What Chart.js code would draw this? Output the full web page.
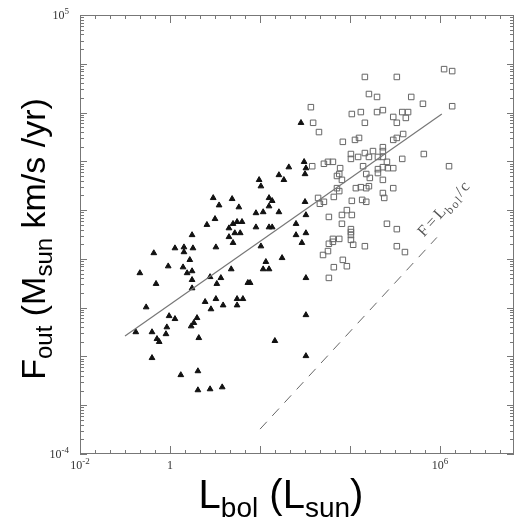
<!DOCTYPE html>
<html>
<head>
<meta charset="utf-8">
<script src="https://cdn.jsdelivr.net/npm/chart.js@4.4.0/dist/chart.umd.min.js"></script>
<style>
  html, body { margin: 0; padding: 0; background: #fff; }
  #wrap { width: 520px; height: 522px; position: relative; }
</style>
</head>
<body>
<div id="wrap"><canvas id="outflowChart"></canvas></div>
<script>
// values are log10
// filled triangles
var tri_logL = [-0.76, -0.67, -0.53, -0.40, -0.40, -0.36, -0.31, -0.29, -0.24, -0.07,
  -0.09, -0.04, -0.02, 0.11, 0.11, 0.24, 0.29, 0.31, 0.31, 0.38,
  0.44, 0.49, 0.49, 0.49, 0.49, 0.51, 0.47, 0.53, 0.60, 0.64,
  0.62, 0.62, 0.78, 0.82, 0.89, 0.89, 0.91, 0.96, 1.00, 1.02,
  1.02, 1.04, 1.09, 1.13, 1.16, 1.18, 1.31, 1.31, 1.36, 1.38,
  1.40, 1.40, 1.44, 1.49, 1.49, 1.49, 1.53, 1.56, 1.60, 1.62,
  1.73, 1.78, 1.91, 1.91, 1.98, 2.02, 2.02, 2.07, 2.07, 2.13,
  2.20, 2.20, 2.20, 2.20, 2.27, 2.27, 2.33, 2.42, 2.42, 2.49,
  2.53, 2.64, 2.80, 2.80, 2.91, 2.93, 2.98, 3.02, 3.00, 3.00,
  3.02, 3.02, 3.02, 3.02, 3.02];
var tri_logF = [-1.50, -0.29, -0.99, -1.50, -2.03, 0.12, -0.51, -1.64, -1.70, -1.40,
  -1.54, -0.15, -1.17, -1.23, 0.22, -2.38, -0.17, 0.24, 0.14, -0.29,
  -0.02, 0.49, -0.25, -0.43, -0.60, 0.22, -1.38, -1.31, -1.21, -1.62,
  -2.30, -2.69, -0.88, 0.70, -0.37, -2.67, -1.03, 1.25, 0.82, 0.24,
  -0.82, -0.51, 1.10, -0.39, -2.63, -0.95, 0.63, 0.45, -0.21, 1.23,
  0.72, 0.33, 0.53, 0.76, -0.82, -0.95, 1.06, 0.53, 0.76, -0.82,
  -0.49, -0.49, 0.94, 0.65, 1.62, 1.49, 0.26, 0.96, -0.21, -0.06,
  1.25, 1.08, 0.65, -0.21, 1.19, 0.65, -1.68, 1.72, 0.96, 0.02,
  1.62, 1.88, 0.72, 0.49, 2.79, 0.33, 1.99, 1.86, 1.74, 1.17,
  0.90, 0.53, -0.39, -1.15, -1.99];

// open squares
var sq_logL = [4.33, 5.04, 6.09, 6.27, 4.42, 4.60, 5.36, 5.62, 6.27, 3.13,
  3.18, 3.31, 4.04, 4.24, 4.33, 4.60, 4.73, 4.96, 5.04, 5.16,
  5.29, 5.24, 3.84, 4.11, 4.20, 4.96, 5.04, 5.18, 5.64, 6.20,
  4.02, 4.02, 4.18, 4.33, 4.42, 4.51, 4.62, 4.73, 4.73, 4.73,
  4.82, 4.73, 4.84, 4.96, 5.16, 4.29, 4.36, 4.44, 4.62, 4.62,
  4.73, 4.73, 4.76, 4.96, 3.78, 3.76, 3.71, 3.82, 3.71, 3.76,
  3.64, 3.62, 3.51, 3.42, 3.16, 3.29, 3.33, 3.42, 4.13, 4.24,
  4.36, 4.42, 4.04, 4.27, 4.36, 3.53, 3.82, 3.93, 4.04, 3.82,
  4.02, 4.02, 4.02, 4.02, 4.07, 3.62, 3.76, 3.62, 3.53, 4.33,
  4.82, 5.04, 5.04, 5.22, 3.51, 3.40, 3.84, 3.93, 3.64, 3.53];
var sq_logF = [3.73, 3.73, 3.89, 3.85, 3.38, 3.32, 3.32, 3.18, 3.13, 3.11,
  2.79, 2.60, 2.97, 3.01, 2.79, 3.01, 3.05, 2.91, 2.79, 3.01,
  3.01, 2.89, 2.40, 2.44, 2.48, 2.44, 2.48, 2.56, 2.15, 1.90,
  2.15, 2.05, 2.09, 2.17, 2.09, 2.21, 2.09, 2.29, 2.21, 2.09,
  1.99, 1.88, 1.86, 1.86, 2.05, 1.90, 1.74, 1.66, 1.84, 1.76,
  1.62, 1.35, 1.25, 1.45, 1.86, 1.74, 1.70, 1.62, 1.45, 1.39,
  1.27, 1.99, 1.99, 1.95, 1.90, 1.25, 1.13, 1.17, 1.45, 1.47,
  1.45, 1.49, 1.19, 1.21, 1.17, 0.86, 0.90, 1.00, 0.90, 0.72,
  0.61, 0.55, 0.49, 0.39, 0.29, 0.41, 0.41, 0.35, 0.31, 0.26,
  0.72, 0.61, 0.26, 0.14, 0.16, 0.08, -0.02, -0.15, -0.17, -0.39];

// fitted relation and F = L_bol/c
var fit_logL = [-1.0, 6.04];
var fit_logF = [-1.58, 2.97];
var lim_logL = [2.0, 5.93];
var lim_logF = [-3.49, 0.44];

var x_range = [1e-2, 4.4e7];
var y_range = [1e-4, 1e5];
var x_labels = [{v: 1e-2, base: '10', sup: '-2'}, {v: 1, base: '1', sup: ''}, {v: 1e6, base: '10', sup: '6'}];
var y_labels = [{v: 1e5, base: '10', sup: '5'}, {v: 1e-4, base: '10', sup: '-4'}];

function toPoints(logx, logy) {
  return logx.map(function(lx, i) {
    return {x: Math.pow(10, lx), y: Math.pow(10, logy[i])};
  });
}

var SANS = '"Liberation Sans", Arial, sans-serif';
var SERIF = '"Liberation Serif", "DejaVu Serif", serif';

// draws text pieces one after the other (for sub/superscripts)
function drawRich(ctx, parts, x, y, align) {
  var w = 0;
  parts.forEach(function(p) {
    ctx.font = p.font;
    p.w = ctx.measureText(p.t).width + (p.gap || 0);
    w += p.w;
  });
  var cx = x;
  if (align === 'center') cx = x - w / 2;
  if (align === 'right') cx = x - w;
  parts.forEach(function(p) {
    ctx.font = p.font;
    ctx.fillText(p.t, cx, y + (p.dy || 0));
    cx += p.w;
  });
}

var framePlugin = {
  id: 'frame',
  beforeDatasetsDraw: function(chart) {
    var ctx = chart.ctx, a = chart.chartArea;
    var xs = chart.scales.x, ys = chart.scales.y;
    ctx.save();
    ctx.strokeStyle = '#777';
    ctx.lineWidth = 1;
    ctx.strokeRect(a.left + 0.5, a.top + 0.5, a.right - a.left - 1, a.bottom - a.top - 1);

    ctx.beginPath();
    // x ticks, every third of a decade
    for (var k = 0; k < 40; k++) {
      var lv = -2 + k / 3;
      var v = Math.pow(10, lv);
      if (v > x_range[1]) break;
      var px = Math.round(xs.getPixelForValue(v)) + 0.5;
      var r = Math.round(lv);
      var major = Math.abs(lv - r) < 1e-6 && r % 2 === 0;
      var len = major ? 8 : 4;
      ctx.moveTo(px, a.bottom); ctx.lineTo(px, a.bottom - len);
      ctx.moveTo(px, a.top); ctx.lineTo(px, a.top + len);
    }
    // y ticks, log minors
    for (var n = -4; n <= 4; n++) {
      for (var m = 1; m <= 9; m++) {
        var py = Math.round(ys.getPixelForValue(m * Math.pow(10, n))) + 0.5;
        var l2 = m === 1 ? 7 : 4;
        ctx.moveTo(a.left, py); ctx.lineTo(a.left + l2, py);
        ctx.moveTo(a.right, py); ctx.lineTo(a.right - l2, py);
      }
    }
    ctx.stroke();
    ctx.restore();
  },
  afterDraw: function(chart) {
    var ctx = chart.ctx, a = chart.chartArea;
    var xs = chart.scales.x, ys = chart.scales.y;
    ctx.save();
    ctx.fillStyle = '#333';
    ctx.textBaseline = 'alphabetic';
    ctx.textAlign = 'left';

    x_labels.forEach(function(t) {
      var px = xs.getPixelForValue(t.v);
      var parts = [{t: t.base, font: '12px ' + SERIF}];
      if (t.sup) parts.push({t: t.sup, font: '9px ' + SERIF, dy: -5});
      drawRich(ctx, parts, px, a.bottom + 15, 'center');
    });
    y_labels.forEach(function(t) {
      var py = ys.getPixelForValue(t.v);
      drawRich(ctx, [{t: t.base, font: '12px ' + SERIF}, {t: t.sup, font: '9px ' + SERIF, dy: -5}],
        a.left - 11, py + 4, 'right');
    });

    // axis titles
    ctx.fillStyle = '#000';
    drawRich(ctx, [
      {t: 'L', font: '40px ' + SANS},
      {t: 'bol', font: '28px ' + SANS, dy: 9},
      {t: ' (L', font: '40px ' + SANS},
      {t: 'sun', font: '28px ' + SANS, dy: 9},
      {t: ')', font: '40px ' + SANS}
    ], 281, 508, 'center');

    ctx.save();
    ctx.translate(45, 239);
    ctx.rotate(-Math.PI / 2);
    drawRich(ctx, [
      {t: 'F', font: '34px ' + SANS},
      {t: 'out', font: '24px ' + SANS, dy: 7},
      {t: ' (M', font: '34px ' + SANS},
      {t: 'sun', font: '24px ' + SANS, dy: 7},
      {t: ' km/s /yr)', font: '34px ' + SANS}
    ], 0, 0, 'center');
    ctx.restore();

    // label along the F = L/c line
    var x1 = xs.getPixelForValue(Math.pow(10, lim_logL[0])), y1 = ys.getPixelForValue(Math.pow(10, lim_logF[0]));
    var x2 = xs.getPixelForValue(Math.pow(10, lim_logL[1])), y2 = ys.getPixelForValue(Math.pow(10, lim_logF[1]));
    ctx.save();
    ctx.fillStyle = '#555';
    ctx.translate(x2 - 13, y2);
    ctx.rotate(Math.atan2(y2 - y1, x2 - x1));
    drawRich(ctx, [
      {t: 'F', font: '16px ' + SERIF, gap: 3},
      {t: '=', font: '16px ' + SERIF, gap: 3},
      {t: 'L', font: '16px ' + SERIF, gap: 1},
      {t: 'b', font: '12px ' + SERIF, dy: 4, gap: 1.5},
      {t: 'o', font: '12px ' + SERIF, dy: 4, gap: 1.5},
      {t: 'l', font: '12px ' + SERIF, dy: 4, gap: 2},
      {t: '/', font: '16px ' + SERIF, gap: 2},
      {t: 'c', font: '16px ' + SERIF}
    ], 0, 0, 'left');
    ctx.restore();

    ctx.restore();
  }
};

var ctx = document.getElementById('outflowChart');
var outflowChart = new Chart(ctx, {
  type: 'scatter',
  data: {
    datasets: [
      {
        label: 'fit',
        data: toPoints(fit_logL, fit_logF),
        showLine: true,
        borderColor: '#777',
        borderWidth: 1.2,
        pointRadius: 0
      },
      {
        label: 'F = L/c',
        data: toPoints(lim_logL, lim_logF),
        showLine: true,
        borderColor: '#666',
        borderWidth: 1,
        borderDash: [10, 8],
        pointRadius: 0
      },
      {
        label: 'triangles',
        data: toPoints(tri_logL, tri_logF),
        pointStyle: 'triangle',
        pointRadius: 3.3,
        backgroundColor: '#111',
        borderColor: '#111',
        borderWidth: 1
      },
      {
        label: 'squares',
        data: toPoints(sq_logL, sq_logF),
        pointStyle: 'rect',
        pointRadius: 3.9,
        backgroundColor: 'rgba(0,0,0,0)',
        borderColor: '#666',
        borderWidth: 1
      }
    ]
  },
  options: {
    responsive: true,
    maintainAspectRatio: false,
    animation: false,
    layout: {
      padding: {left: 80, top: 15, right: 6, bottom: 68}
    },
    plugins: {
      legend: {display: false},
      tooltip: {enabled: false}
    },
    scales: {
      x: {
        type: 'logarithmic',
        min: x_range[0],
        max: x_range[1],
        display: false
      },
      y: {
        type: 'logarithmic',
        min: y_range[0],
        max: y_range[1],
        display: false
      }
    }
  },
  plugins: [framePlugin]
});
</script>
</body>
</html>
